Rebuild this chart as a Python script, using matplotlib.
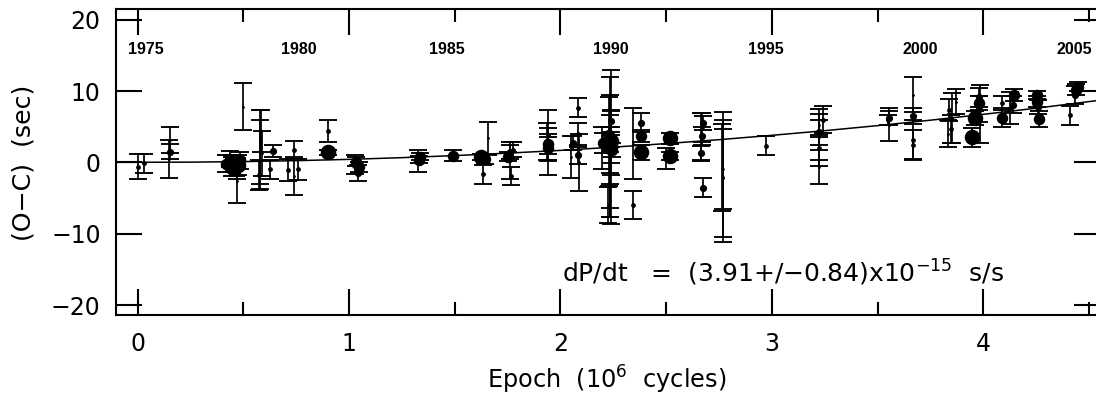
import matplotlib
matplotlib.use("Agg")
import matplotlib.pyplot as plt
import matplotlib.transforms as mtransforms
from matplotlib.ticker import MultipleLocator, FixedLocator

plt.rcParams['font.family'] = ['DejaVu Sans']
plt.rcParams['mathtext.fontset'] = 'dejavusans'

# ---------------- data ----------------
# epoch in 10^6 cycles, O-C in seconds, 1-sigma error, weight class (dot size 1..5)
epoch = [0.000, 0.030,
         0.153, 0.153, 0.150,
         0.420, 0.435, 0.445, 0.455, 0.465, 0.475, 0.485, 0.470, 0.471,
         0.497,
         0.578, 0.580, 0.585, 0.575, 0.590, 0.625, 0.638,
         0.709, 0.741, 0.741, 0.760,
         0.899, 0.899,
         1.030, 1.035, 1.045, 1.040,
         1.325, 1.330, 1.337,
         1.490,
         1.624, 1.643, 1.635, 1.656,
         1.753, 1.763, 1.777, 1.764, 1.760,
         1.939, 1.939, 1.942, 1.936, 1.940,
         2.084, 2.084, 2.061, 2.082, 2.050, 2.087,
         2.239, 2.236, 2.232, 2.228, 2.241, 2.236, 2.240, 2.240, 2.235, 2.245,
         2.230, 2.240, 2.232, 2.225, 2.200, 2.195,
         2.381, 2.380, 2.382, 2.345, 2.345,
         2.518, 2.518, 2.500,
         2.676, 2.676, 2.668, 2.664, 2.665, 2.670,
         2.767, 2.769, 2.766, 2.768,
         2.971,
         3.224, 3.224, 3.222, 3.222, 3.243, 3.224,
         3.552, 3.552, 3.550,
         3.666, 3.666, 3.666, 3.666,
         3.839, 3.871, 3.847, 3.835, 3.852,
         3.947, 3.963, 3.981, 3.981, 3.985, 3.980,
         4.088, 4.088, 4.147, 4.139, 4.125,
         4.252, 4.252, 4.257, 4.265,
         4.410, 4.435, 4.446, 4.440]
oc = [-0.61, -0.14,
      1.50, 3.13, 0.47,
      -0.20, 0.50, -0.60, 0.00, -1.00, -0.40, 0.30, -1.50, -2.57,
      7.80,
      1.80, 1.50, 4.40, -1.80, 1.25, -1.00, 1.60,
      -1.07, 1.73, -1.90, -0.98,
      1.40, 4.40,
      -0.30, 0.10, -0.60, -1.50,
      0.20, 0.40, 0.80,
      0.93,
      0.80, 0.47, -1.70, 3.40,
      0.80, 1.50, 1.80, -1.87, 0.20,
      3.80, 2.60, 2.00, 2.90, 1.50,
      7.66, 4.00, 2.76, 1.00, 0.75, 0.00,
      2.20, 2.20, 1.50, 2.90, 2.70, 2.60, 2.40, 3.00, 2.20, 1.70,
      3.80, 5.80, -5.30, -6.00, 2.70, 2.00,
      5.56, 3.70, 1.40, 2.60, -6.00,
      3.36, 0.90, 0.50,
      -3.55, 5.50, 3.70, 1.26, 3.60, 4.90,
      -2.06, -2.20, -0.77, -0.96,
      2.34,
      4.20, 1.96, -0.65, 3.50, 6.00, 5.30,
      6.26, 5.30, 6.00,
      9.50, 6.50, 3.10, 2.50,
      7.30, 8.48, 4.70, 4.00, 6.20,
      3.50, 6.26, 8.27, 9.10, 6.80, 7.50,
      6.26, 8.36, 9.44, 8.10, 7.60,
      9.44, 8.50, 7.80, 6.07,
      6.60, 9.44, 10.60, 10.20]
err = [1.75, 1.36,
       1.07, 1.80, 2.70,
       1.20, 1.10, 1.30, 1.00, 0.90, 1.40, 1.20, 0.80, 3.18,
       3.30,
       5.60, 4.50, 2.90, 2.10, 3.20, 1.30, 0.80,
       1.60, 1.30, 2.70, 1.50,
       0.30, 1.60,
       1.40, 0.60, 0.70, 1.10,
       1.50, 0.50, 0.50,
       0.75,
       0.40, 0.70, 1.38, 2.30,
       0.60, 1.00, 1.00, 1.24, 2.60,
       3.60, 1.40, 1.60, 2.60, 3.30,
       1.33, 1.50, 1.00, 1.20, 3.00, 4.00,
       10.80, 9.80, 7.90, 6.20, 4.50, 4.10, 2.50, 0.80, 0.80, 1.00,
       1.20, 1.50, 2.30, 2.50, 1.40, 3.00,
       1.30, 0.80, 1.00, 4.95, 1.95,
       0.75, 0.60, 1.50,
       1.33, 1.00, 1.30, 1.00, 3.30, 2.00,
       9.16, 8.20, 6.10, 5.60,
       1.33,
       1.70, 1.60, 2.40, 4.00, 1.87, 1.50,
       1.00, 2.30, 0.70,
       2.40, 1.10, 2.80, 2.00,
       1.52, 1.75, 2.00, 1.90, 3.55,
       1.30, 1.00, 1.00, 1.30, 4.04, 1.80,
       1.30, 1.00, 0.80, 1.20, 2.20,
       0.60, 0.80, 1.00, 1.10,
       1.35, 1.20, 0.60, 0.80]
weight = [2, 2,
          3, 1, 1,
          4, 4, 5, 5, 4, 5, 4, 3, 1,
          1,
          1, 1, 1, 2, 1, 2, 3,
          2, 2, 1, 2,
          5, 2,
          3, 4, 4, 3,
          1, 4, 4,
          4,
          5, 4, 2, 1,
          4, 3, 2, 2, 1,
          2, 4, 4, 3, 1,
          2, 2, 3, 3, 1, 1,
          1, 1, 1, 1, 2, 1, 3, 5, 5, 4,
          4, 3, 1, 1, 4, 1,
          3, 4, 5, 1, 2,
          5, 5, 1,
          3, 3, 3, 3, 1, 2,
          1, 1, 1, 1,
          2,
          3, 2, 1, 1, 2, 1,
          3, 1, 2,
          1, 3, 2, 2,
          2, 1, 2, 1, 1,
          5, 5, 4, 3, 1, 3,
          4, 2, 4, 3, 2,
          4, 4, 3, 4,
          2, 3, 4, 4]

# fitted dP/dt curve
fit_epoch = [-0.10, 0.25, 0.50, 0.75, 1.00, 1.25, 1.50, 1.75, 2.00, 2.25,
             2.50, 2.75, 3.00, 3.25, 3.50, 3.75, 4.00, 4.25, 4.55]
fit_oc = [0.00, 0.03, 0.11, 0.24, 0.42, 0.66, 0.95, 1.29, 1.68, 2.13,
          2.63, 3.18, 3.79, 4.44, 5.15, 5.91, 6.73, 7.59, 8.70]

year_labels = ['1975', '1980', '1985', '1990', '1995', '2000', '2005']
year_epoch = [0.040, 0.762, 1.464, 2.240, 2.972, 3.702, 4.432]

x_ticks = [0, 1, 2, 3, 4]
y_ticks = [-20, -10, 0, 10, 20]

# ---------------- figure ----------------
W, H = 1096, 401
fig = plt.figure(figsize=(W / 100, H / 100), dpi=100)
L, R, T, B = 116, 1100, 9.3, 315
ax = fig.add_axes([L / W, 1 - B / H, (R - L) / W, (B - T) / H])
ax.set_xlim(-0.1026, 4.552)
ax.set_ylim(-21.39, 21.45)

size_px = {1: 2.8, 2: 4.8, 3: 7.2, 4: 11.5, 5: 15.5}
for e, y, s, w in zip(epoch, oc, err, weight):
    ax.errorbar([e], [y], yerr=[s], fmt='none', ecolor='black',
                elinewidth=1.25, capsize=6.3, capthick=1.35, zorder=3)
    ax.plot([e], [y], 'o', color='black', ms=size_px[w] / 1.389, mew=0,
            zorder=3.5)

ax.plot(fit_epoch, fit_oc, color='black', lw=1.1, zorder=4)

for sp in ax.spines.values():
    sp.set_linewidth(1.5)

ax.xaxis.set_major_locator(FixedLocator(x_ticks))
ax.xaxis.set_minor_locator(MultipleLocator(0.5))
ax.yaxis.set_major_locator(FixedLocator(y_ticks))
ax.tick_params(axis='both', which='major', direction='in', length=18.5,
               width=1.5, top=True, right=True, labelsize=17)
ax.tick_params(axis='both', which='minor', direction='in', length=9.4,
               width=1.5, top=True, right=True)
ax.tick_params(axis='y', which='minor', left=False, right=False)
ax.tick_params(axis='x', which='major', pad=12)
ax.tick_params(axis='y', which='major', pad=11)
ax.set_xticklabels([str(v) for v in x_ticks])
ax.set_yticklabels([str(v).replace('-', '\u2212') for v in y_ticks])

trans = mtransforms.blended_transform_factory(ax.transData, ax.transAxes)
for lab, e in zip(year_labels, year_epoch):
    ax.text(e, (B - 54) / (B - T), lab, transform=trans, ha='center',
            va='baseline', fontsize=11.5, fontweight='bold',
            family='Liberation Sans')

fig.text(606.7 / W, 1 - 389 / H, 'Epoch  (10$^{6}$  cycles)', ha='center',
         va='baseline', fontsize=17.3)
fig.text(23.5 / W, 1 - 163 / H, '(O\u2212C)  (sec)', rotation=90,
         ha='center', va='center', fontsize=18.2)
fig.text(561.7 / W, 1 - 282 / H,
         'dP/dt   =  (3.91+/\u22120.84)x10$^{\\mathregular{-15}}$  s/s',
         ha='left', va='baseline', fontsize=18)

fig.savefig('out.png', dpi=100)
